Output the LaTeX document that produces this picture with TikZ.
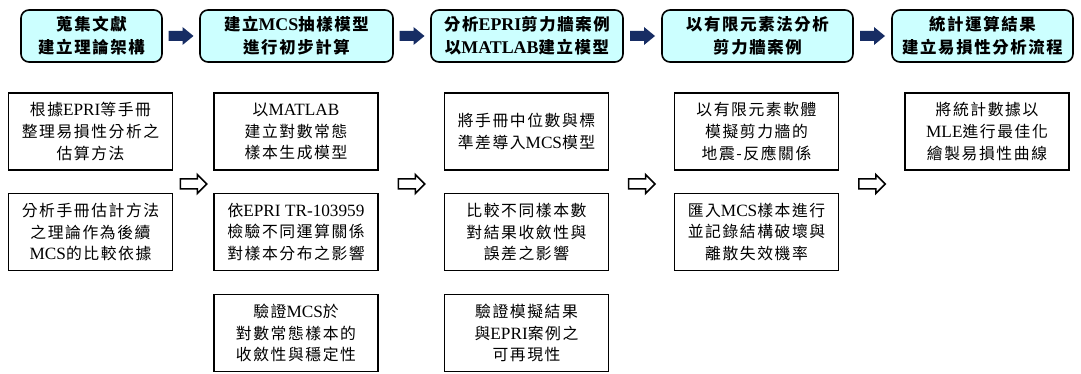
\documentclass[tikz,border=0pt]{standalone}
\usepackage{fontspec}
\setmainfont{Noto Sans CJK TC}
\newfontfamily\cjkspaced{Noto Sans CJK TC}[LetterSpace=10]
\newfontfamily\latin{Liberation Serif}[Scale=1.09]
\newcommand{\E}[1]{{\latin #1}}
\usetikzlibrary{calc}
\definecolor{topfill}{RGB}{204,255,255}
\definecolor{navy}{RGB}{23,45,100}
\tikzset{
  topbox/.style={draw=black, line width=1.6pt, rounded corners=8pt, fill=topfill,
    minimum height=52pt, inner sep=0pt, align=center,
    font=\cjkspaced\fontsize{16.4}{23}\selectfont\bfseries},
  subbox/.style={draw=black, line width=1.6pt, minimum width=164pt, minimum height=77pt,
    inner sep=0pt, align=center, font=\cjkspaced\fontsize{15.8}{21.7}\selectfont},
  solidarr/.pic={\fill[navy] (-12.5,-5) -- (1.5,-5) -- (1.5,-9) -- (12.5,0)
      -- (1.5,9) -- (1.5,5) -- (-12.5,5) -- cycle;},
  hollowarr/.pic={\draw[line width=1.5pt, fill=white, line join=miter]
      (-13,-5) -- (4,-5) -- (4,-9.5) -- (13.5,0)
      -- (4,9.5) -- (4,5) -- (-13,5) -- cycle;}
}
\begin{document}
\begin{tikzpicture}[x=1pt,y=-1pt]
\useasboundingbox[fill=white] (0,0) rectangle (1081,374);
% top row
\node[topbox, minimum width=141pt] (t1) at (91.5,36) {蒐集文獻\\建立理論架構};
\node[topbox, minimum width=193pt] (t2) at (296.5,36) {建立\E{MCS}抽樣模型\\進行初步計算};
\node[topbox, minimum width=192pt] (t3) at (527,36) {分析\E{EPRI}剪力牆案例\\以\E{MATLAB}建立模型};
\node[topbox, minimum width=191pt] (t4) at (757.5,36) {以有限元素法分析\\剪力牆案例};
\node[topbox, minimum width=181pt] (t5) at (982.5,36) {統計運算結果\\建立易損性分析流程};
\coordinate (f1) at ($(t1.east)!0.5!(t2.west)$);
\coordinate (f2) at ($(t2.east)!0.5!(t3.west)$);
\coordinate (f3) at ($(t3.east)!0.5!(t4.west)$);
\coordinate (f4) at ($(t4.east)!0.5!(t5.west)$);
\foreach \c in {f1,f2,f3,f4} \pic at (\c) {solidarr};
% column 1
\node[subbox] (a1) at (90.5,131.5) {根據\E{EPRI}等手冊\\整理易損性分析之\\估算方法};
\node[subbox] (a2) at (90.5,232) {分析手冊估計方法\\之理論作為後續\\\E{MCS}的比較依據};
% column 2
\node[subbox] (b1) at (296,131.5) {以\E{MATLAB}\\建立對數常態\\樣本生成模型};
\node[subbox] (b2) at (296,232) {依\E{EPRI TR-103959}\\檢驗不同運算關係\\對樣本分布之影響};
\node[subbox] (b3) at (296,333) {驗證\E{MCS}於\\對數常態樣本的\\收斂性與穩定性};
% column 3
\node[subbox] (c1) at (526.5,131.5) {將手冊中位數與標\\準差導入\E{MCS}模型};
\node[subbox] (c2) at (526.5,232) {比較不同樣本數\\對結果收斂性與\\誤差之影響};
\node[subbox] (c3) at (526.5,333) {驗證模擬結果\\與\E{EPRI}案例之\\可再現性};
% column 4
\node[subbox] (d1) at (756.5,131.5) {以有限元素軟體\\模擬剪力牆的\\地震-反應關係};
\node[subbox] (d2) at (756.5,232) {匯入\E{MCS}樣本進行\\並記錄結構破壞與\\離散失效機率};
% column 5
\node[subbox] (e1) at (987,131.5) {將統計數據以\\\E{MLE}進行最佳化\\繪製易損性曲線};
% hollow arrows
\coordinate (h1) at ($(a1.east)!0.5!(b1.west)+(0,52.5)$);
\coordinate (h2) at ($(b1.east)!0.5!(c1.west)+(0,52.5)$);
\coordinate (h3) at ($(c1.east)!0.5!(d1.west)+(0,52.5)$);
\coordinate (h4) at ($(d1.east)!0.5!(e1.west)+(0,52.5)$);
\foreach \c in {h1,h2,h3,h4} \pic at (\c) {hollowarr};
\end{tikzpicture}
\end{document}
